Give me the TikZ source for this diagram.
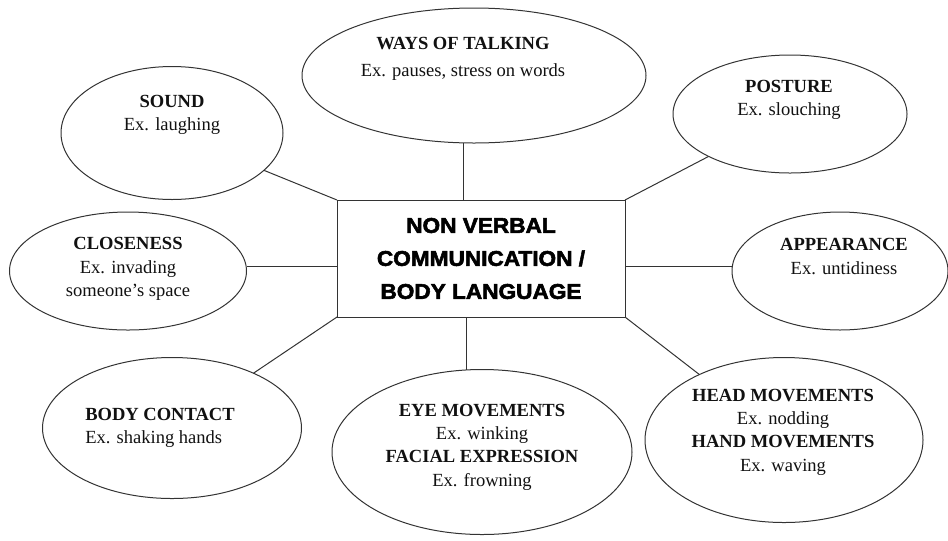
\documentclass[tikz,border=0pt]{standalone}
\usepackage{fontspec}
\usepackage{xcolor}
\setmainfont{Liberation Serif}
\newfontfamily\heavyfont[FakeBold=2.6,FakeStretch=1.06]{Liberation Sans Bold}
\definecolor{mapLine}{HTML}{333333}
\definecolor{mapText}{HTML}{111111}
\usetikzlibrary{shapes.geometric}
\tikzset{
  bubble/.style={ellipse, draw=mapLine, line width=0.75pt, inner sep=0pt, outer sep=0pt},
  bubbletext/.style={align=center, text=mapText, font=\fontsize{13.9}{17.5}\selectfont},
  hubbox/.style={rectangle, draw=mapLine, line width=0.75pt, outer sep=0pt, align=center,
    text=black, font=\heavyfont\fontsize{16}{24.75}\selectfont},
  link/.style={draw=mapLine, line width=0.75pt}
}

\begin{document}
\begin{tikzpicture}[x=0.75pt,y=-0.75pt]
  \useasboundingbox (0,0) rectangle (948,540);
  \node[hubbox, minimum width=216pt, minimum height=87.75pt] (hub) at (481,258.5) {NON VERBAL\\COMMUNICATION /\\BODY LANGUAGE};

  \node[bubble, minimum width=258pt, minimum height=101.25pt] (talk) at (474,75.5) {};
  \node[bubbletext, font=\fontsize{13.9}{20}\selectfont] (talktext) at (463,58.5) {\textbf{WAYS OF TALKING}\\Ex. pauses, stress on words};
  \node[bubble, minimum width=166.5pt, minimum height=99.75pt] (sound) at (172,133) {};
  \node[bubbletext] (soundtext) at (172,115) {\textbf{SOUND}\\Ex. laughing};
  \node[bubble, minimum width=175.5pt, minimum height=88.5pt] (posture) at (790,114) {};
  \node[bubbletext] (posturetext) at (789,100) {\textbf{POSTURE}\\Ex. slouching};
  \node[bubble, minimum width=177.75pt, minimum height=88.5pt] (close) at (128,271) {};
  \node[bubbletext] (closetext) at (128,269) {\textbf{CLOSENESS}\\Ex. invading\\someone’s space};
  \node[bubble, minimum width=162pt, minimum height=88.5pt] (appear) at (840,271) {};
  \node[bubbletext] (appeartext) at (844,256.5) {\textbf{APPEARANCE}\\Ex. untidiness};
  \node[bubble, minimum width=194.25pt, minimum height=105.75pt] (body) at (172,428) {};
  \node[bubbletext, align=left] (bodytext) at (160,428) {\textbf{BODY CONTACT}\\Ex. shaking hands};
  \node[bubble, minimum width=225pt, minimum height=123.75pt] (eye) at (482,452) {};
  \node[bubbletext] (eyetext) at (482,447) {\textbf{EYE MOVEMENTS}\\Ex. winking\\\textbf{FACIAL EXPRESSION}\\Ex. frowning};
  \node[bubble, minimum width=208.5pt, minimum height=123.75pt] (head) at (784,440) {};
  \node[bubbletext] (headtext) at (783,432) {\textbf{HEAD MOVEMENTS}\\Ex. nodding\\\textbf{HAND MOVEMENTS}\\Ex. waving};

  \draw[link] ([xshift=-13.5pt]hub.north) -- ([xshift=-13.5pt]hub.north |- talk.south);
  \draw[link] ([xshift=-11.25pt]hub.south) -- ([xshift=-11.25pt]hub.south |- eye.north);
  \draw[link] (sound) -- (hub.north west);
  \draw[link] (posture) -- (hub.north east);
  \draw[link] (body) -- (hub.south west);
  \draw[link] (head) -- (hub.south east);
  \draw[link] ([yshift=3.75pt]close.east) -- ([yshift=3.75pt]close.east -| hub.west);
  \draw[link] ([yshift=3.75pt]appear.west) -- ([yshift=3.75pt]appear.west -| hub.east);
\end{tikzpicture}
\end{document}
